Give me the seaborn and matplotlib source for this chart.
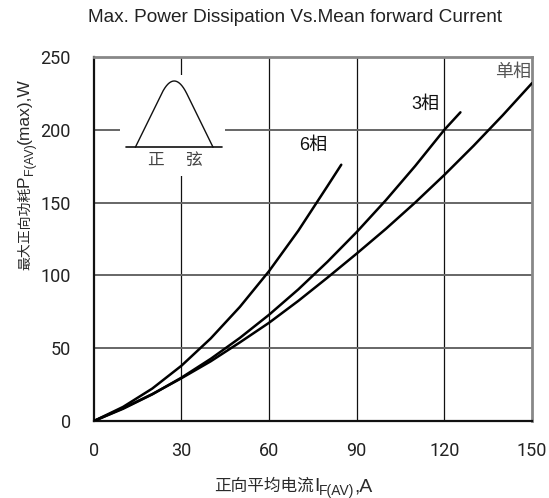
import numpy as np
import pandas as pd
import matplotlib
matplotlib.use("Agg")
import matplotlib.pyplot as plt
import matplotlib.transforms as mtransforms
import seaborn as sns
from matplotlib.patches import Rectangle

# ---- data ----
I_six = [0, 10, 20, 30, 40, 50, 60, 70, 80, 84.7]
P_six = [0, 9.7, 22.3, 38, 56.7, 78.4, 103, 130.7, 161.4, 176]

I_three = [0, 10, 20, 30, 40, 50, 60, 70, 80, 90, 100, 110, 120, 125.5]
P_three = [0, 8.4, 18.3, 29.8, 42.7, 57.1, 73, 90.4, 109.4, 129.8, 151.7, 175.1, 200, 212]

I_single = [0, 10, 20, 30, 40, 50, 60, 70, 80, 90, 100, 110, 120, 130, 140, 150]
P_single = [0, 8.8, 18.5, 29.4, 41, 54, 67.5, 82.5, 98.5, 115, 132, 150, 169, 189, 210, 232]

series_names = ["6相", "3相", "单相"]
x_ticks = [0, 30, 60, 90, 120, 150]
y_ticks = [0, 50, 100, 150, 200, 250]

df = pd.concat([
    pd.DataFrame({"I": I_six, "P": P_six, "s": series_names[0]}),
    pd.DataFrame({"I": I_three, "P": P_three, "s": series_names[1]}),
    pd.DataFrame({"I": I_single, "P": P_single, "s": series_names[2]}),
])

sns.set_theme(style="white")
plt.rcParams['font.family'] = ['Liberation Sans', 'Noto Sans CJK SC', 'DejaVu Sans']

fig = plt.figure(figsize=(5.49, 4.98), dpi=100)
ax = fig.add_axes([0.171, 0.1546, 0.798, 0.731])

sns.lineplot(data=df, x="I", y="P", hue="s", palette=["black"] * 3,
             sort=False, legend=False, linewidth=1.8, ax=ax, zorder=5)

ax.set_xlim(0, 150)
ax.set_ylim(0, 250)
ax.set_xticks(x_ticks)
ax.set_yticks(y_ticks)
ax.tick_params(axis="both", labelsize=13, colors="#222222", direction="in",
               length=3, width=1)
ax.tick_params(axis="x", pad=15)
ax.tick_params(axis="y", pad=16.5)
for lbl in ax.get_xticklabels() + ax.get_yticklabels():
    lbl.set_family(['Roboto', 'DejaVu Sans'])
ax.set_xlabel("")
ax.set_ylabel("")

# grid
for xv in x_ticks[1:-1]:
    ax.axvline(xv, color="#111111", lw=0.9, zorder=1)
for yv in y_ticks[1:-1]:
    ax.axhline(yv, color="#666666", lw=1.4, zorder=1)

for side in ["left", "bottom"]:
    ax.spines[side].set_color("#111111")
    ax.spines[side].set_linewidth(1.6)
for side in ["top", "right"]:
    ax.spines[side].set_color("#888888")
    ax.spines[side].set_linewidth(2.0)

# inset sine icon (white box interrupts grid)
ax.add_patch(Rectangle((9, 168), 36, 69.5, facecolor="white", edgecolor="none", zorder=2))
u = np.linspace(-1, 1, 401)
c = 0.33
k = 1 / (1 - c / 2)
shape = np.where(np.abs(u) >= c, k * (1 - np.abs(u)), k * (1 - c / 2) - k / (2 * c) * u ** 2)
bx0, bx1, by0, by1 = 14.2, 40.8, 188, 233.5
ax.plot(bx0 + (bx1 - bx0) * (u + 1) / 2, by0 + (by1 - by0) * shape,
        color="#111111", lw=1.0, zorder=3)
ax.plot([11, 44], [by0, by0], color="#111111", lw=1.2, zorder=3)
ax.text(21, 179, "正", ha="center", va="center", fontsize=12, color="#444444",
        family=['Noto Sans CJK SC'], zorder=3)
ax.text(34, 179, "弦", ha="center", va="center", fontsize=12, color="#444444",
        family=['Noto Sans CJK SC'], zorder=3)

# curve labels
ax.text(75, 189, "6相", ha="center", va="center", fontsize=13, color="#111111", zorder=6)
ax.text(113.5, 217.5, "3相", ha="center", va="center", fontsize=13, color="#111111", zorder=6)
ax.text(143.5, 240, "单相", ha="center", va="center", fontsize=13, color="#555555",
        family=['Noto Sans CJK SC'], zorder=6)

fig.text(0.537, 0.965, "Max. Power Dissipation Vs.Mean forward Current",
         ha="center", va="center", fontsize=13.7, color="#222222")

# ---- axis labels composed of runs (CJK + Latin + subscript) ----
renderer = fig.canvas.get_renderer()
ident = mtransforms.IdentityTransform()
H = 498


def chain(parts, start, base, vertical=False):
    pos = start
    for s, size, fam, shift in parts:
        if vertical:
            t = fig.text(base + shift, pos, s, transform=ident, rotation=90,
                         rotation_mode="anchor", ha="left", va="baseline",
                         fontsize=size, family=fam, color="#2a2a2a")
            pos += t.get_window_extent(renderer).height
        else:
            t = fig.text(pos, base - shift, s, transform=ident,
                         ha="left", va="baseline",
                         fontsize=size, family=fam, color="#2a2a2a")
            pos += t.get_window_extent(renderer).width


cjk = ['Noto Sans CJK SC']
lat = ['Liberation Sans']
chain([("正向平均电流", 12, cjk, 0), ("I", 14, lat, 0), ("F(AV)", 10, lat, 3.5),
       (",A", 14, lat, 0)], start=214, base=H - 491)
chain([("最大正向功耗", 10, cjk, 0), ("P", 12.5, lat, 0), ("F(AV)", 9, lat, 4),
       ("(max),W", 12.5, lat, 0)], start=H - 270, base=29, vertical=True)

fig.savefig("out.png", dpi=100)
